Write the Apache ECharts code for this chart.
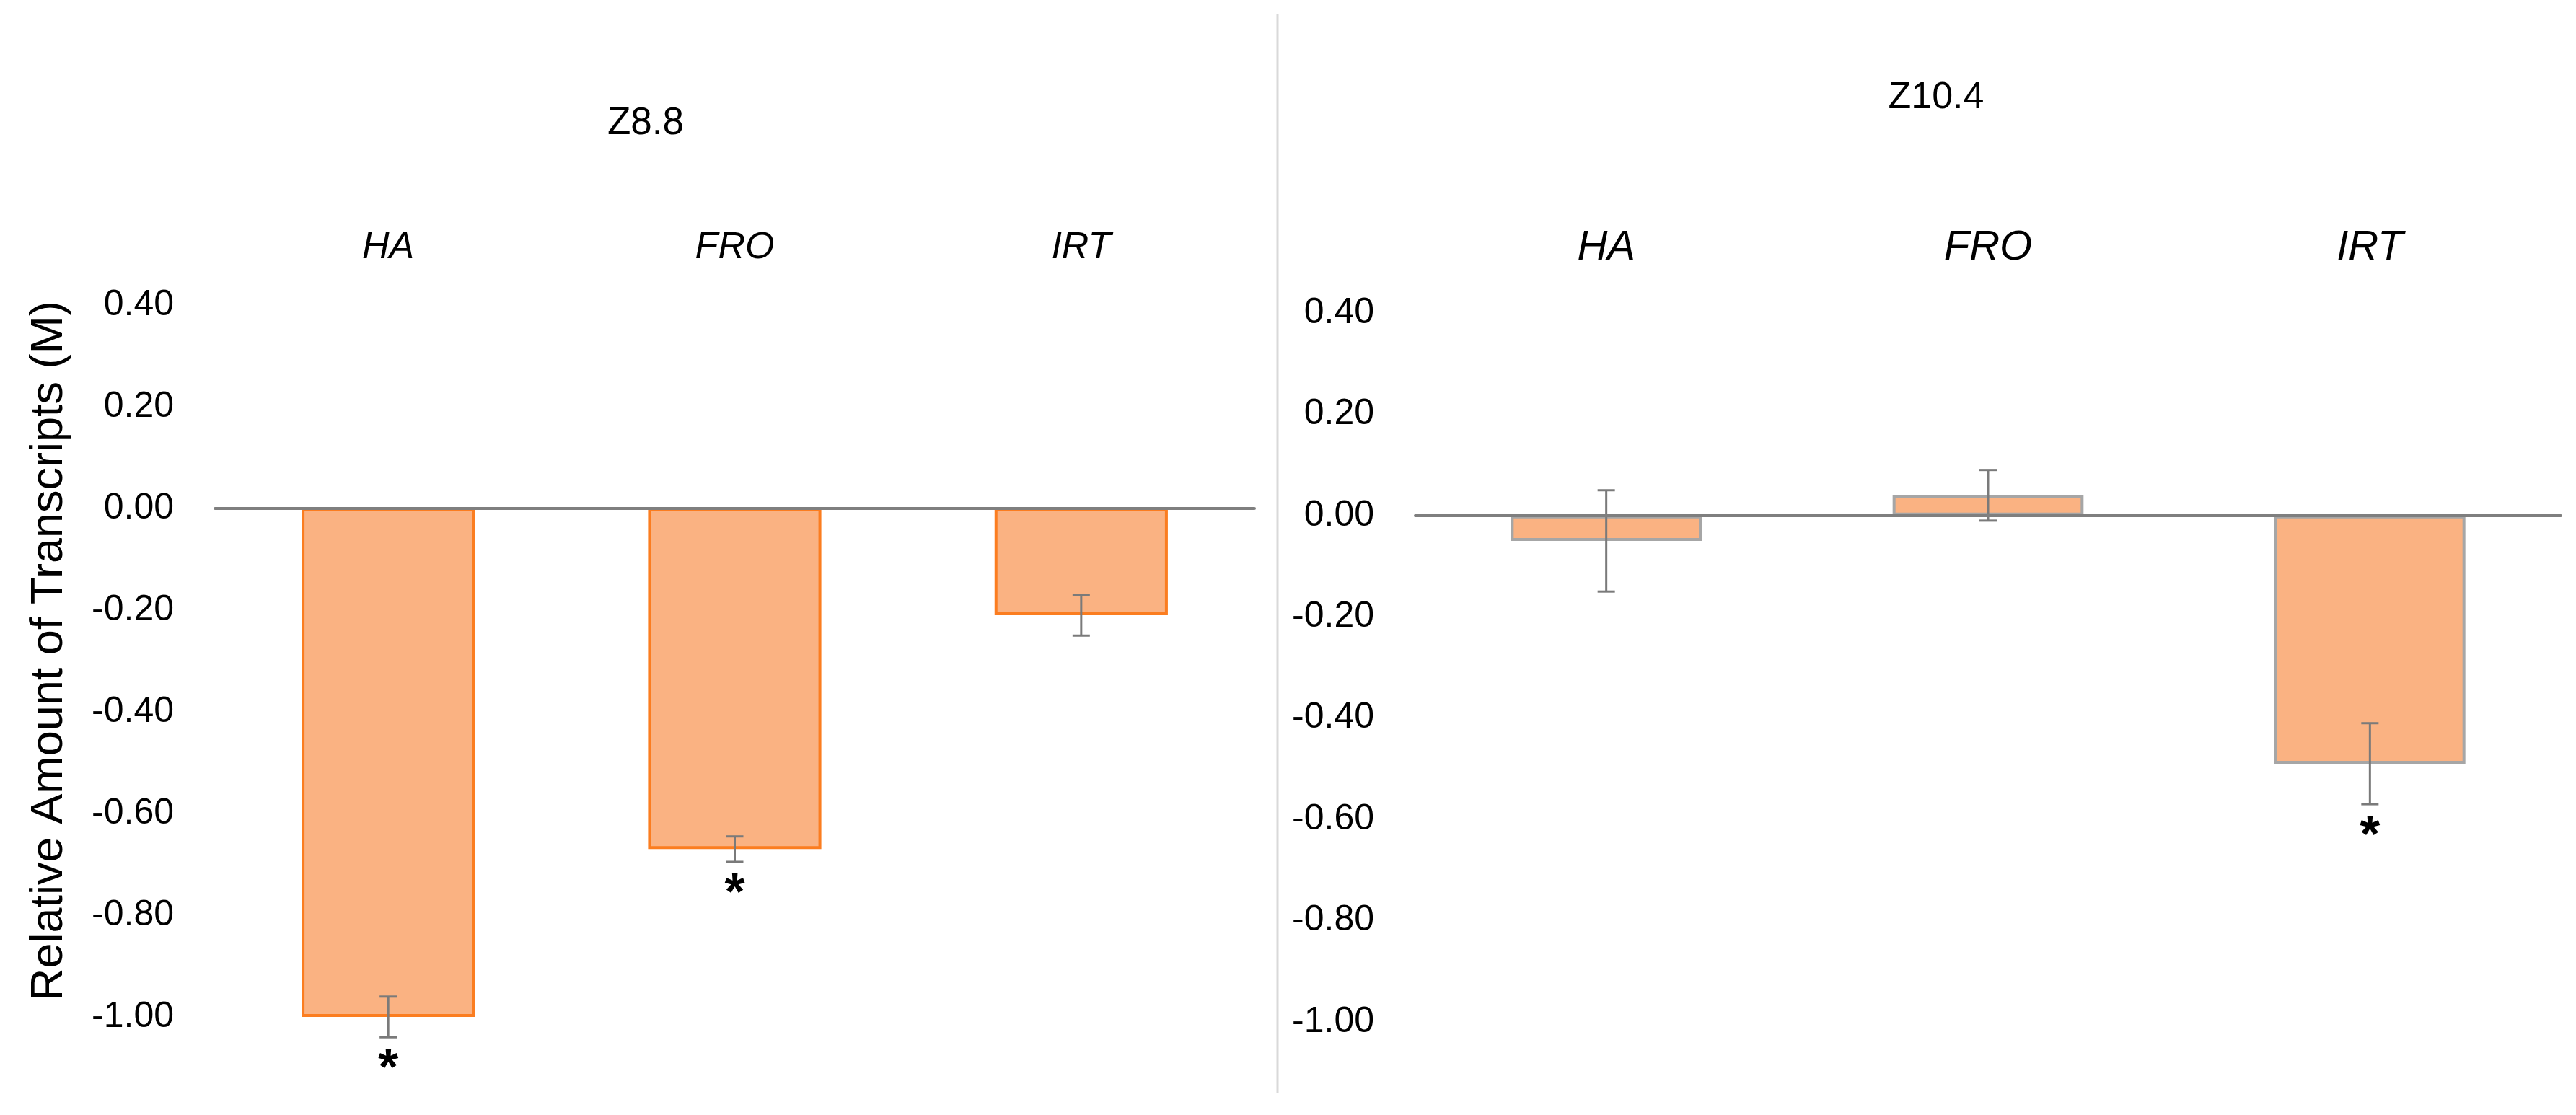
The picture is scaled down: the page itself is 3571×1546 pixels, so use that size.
<!DOCTYPE html>
<html>
<head>
<meta charset="utf-8">
<script src="https://cdn.jsdelivr.net/npm/echarts@6/dist/echarts.min.js"></script>
<style>
html,body{margin:0;padding:0;background:#fff;}
#chart{width:3571px;height:1546px;}
</style>
</head>
<body>
<div id="chart"></div>
<script>
// ---- data ----
var categories = ['HA', 'FRO', 'IRT'];
var z88Values = [-1.00, -0.67, -0.21];
var z88Errors = [0.04, 0.025, 0.04];
var z88Sig = [1, 1, 0];
var z104Values = [-0.05, 0.04, -0.49];
var z104Errors = [0.10, 0.05, 0.08];
var z104Sig = [0, 0, 1];
var panelTitles = ['Z8.8', 'Z10.4'];
var yAxisTitle = 'Relative Amount of Transcripts (M)';

var FONT = '"Liberation Sans", Arial, sans-serif';
var chart = echarts.init(document.getElementById('chart'), null, {renderer: 'canvas'});

function errData(vals, errs, sig) {
  return vals.map(function (v, i) { return [i, v - errs[i], v + errs[i], sig[i]]; });
}

function renderErr(params, api) {
  var x = api.value(0);
  var lo = api.coord([x, api.value(1)]);
  var hi = api.coord([x, api.value(2)]);
  var cap = 12;
  var st = {stroke: '#7a7a7a', lineWidth: 3};
  var children = [
    {type: 'line', shape: {x1: lo[0], y1: lo[1], x2: hi[0], y2: hi[1]}, style: st},
    {type: 'line', shape: {x1: lo[0] - cap, y1: lo[1], x2: lo[0] + cap, y2: lo[1]}, style: st},
    {type: 'line', shape: {x1: hi[0] - cap, y1: hi[1], x2: hi[0] + cap, y2: hi[1]}, style: st}
  ];
  if (api.value(3)) {
    children.push({type: 'text', style: {text: '*', x: lo[0], y: lo[1] + 46, align: 'center', verticalAlign: 'middle',
      font: 'bold 72px ' + FONT, fill: '#000'}});
  }
  return {type: 'group', children: children};
}

function yAxisCfg(idx, withName) {
  var c = {
    type: 'value', gridIndex: idx, min: -1.0, max: 0.4, interval: 0.2,
    axisLine: {show: false}, axisTick: {show: false}, splitLine: {show: false},
    axisLabel: {margin: 57, fontSize: 50, color: '#000', fontFamily: FONT,
      formatter: function (v) { return v.toFixed(2); }}
  };
  if (withName) {
    c.name = yAxisTitle;
    c.nameLocation = 'middle';
    c.nameRotate = 90;
    c.nameGap = 198;
    c.nameTextStyle = {fontSize: 63, color: '#000', fontFamily: FONT, padding: [0, 0, 0, 28]};
  }
  return c;
}

function xLabelAxis(idx, fs, margin) {
  return {type: 'category', gridIndex: idx, data: categories, position: 'top',
    axisLine: {show: false, onZero: false}, axisTick: {show: false},
    axisLabel: {margin: margin, fontSize: fs, fontStyle: 'italic', color: '#000', fontFamily: FONT}};
}
function xZeroAxis(idx) {
  return {type: 'category', gridIndex: idx, data: categories, position: 'bottom', z: 10,
    axisLine: {show: true, onZero: true, lineStyle: {color: '#7f7f7f', width: 4}},
    axisTick: {show: false}, axisLabel: {show: false}};
}

var option = {
  backgroundColor: '#fff',
  animation: false,
  title: [
    {text: panelTitles[0], left: 890, top: 140, textAlign: 'center',
      textStyle: {fontSize: 53, fontWeight: 'normal', color: '#000', fontFamily: FONT}},
    {text: panelTitles[1], left: 2679, top: 105, textAlign: 'center',
      textStyle: {fontSize: 52, fontWeight: 'normal', color: '#000', fontFamily: FONT}}
  ],
  grid: [
    {left: 298, right: 1832, top: 423, bottom: 136},
    {left: 1962, right: 21, top: 434, bottom: 129}
  ],
  xAxis: [xLabelAxis(0, 52, 53), xZeroAxis(0), xLabelAxis(1, 58, 61), xZeroAxis(1)],
  yAxis: [yAxisCfg(0, true), yAxisCfg(1, false)],
  graphic: [
    {type: 'line', shape: {x1: 1771, y1: 20, x2: 1771, y2: 1515}, style: {stroke: '#d9d9d9', lineWidth: 3}}
  ],
  series: [
    {type: 'bar', xAxisIndex: 0, yAxisIndex: 0, data: z88Values, barWidth: '50%',
      itemStyle: {color: '#fab282', borderColor: '#fb7d20', borderWidth: 4}},
    {type: 'custom', xAxisIndex: 0, yAxisIndex: 0, data: errData(z88Values, z88Errors, z88Sig),
      renderItem: renderErr, clip: false, z: 5, encode: {x: 0, y: [1, 2]}},
    {type: 'bar', xAxisIndex: 2, yAxisIndex: 1, data: z104Values, barWidth: '50%',
      itemStyle: {color: '#fab282', borderColor: '#a6a6a6', borderWidth: 4}},
    {type: 'custom', xAxisIndex: 2, yAxisIndex: 1, data: errData(z104Values, z104Errors, z104Sig),
      renderItem: renderErr, clip: false, z: 5, encode: {x: 0, y: [1, 2]}}
  ]
};
chart.setOption(option);
</script>
</body>
</html>
